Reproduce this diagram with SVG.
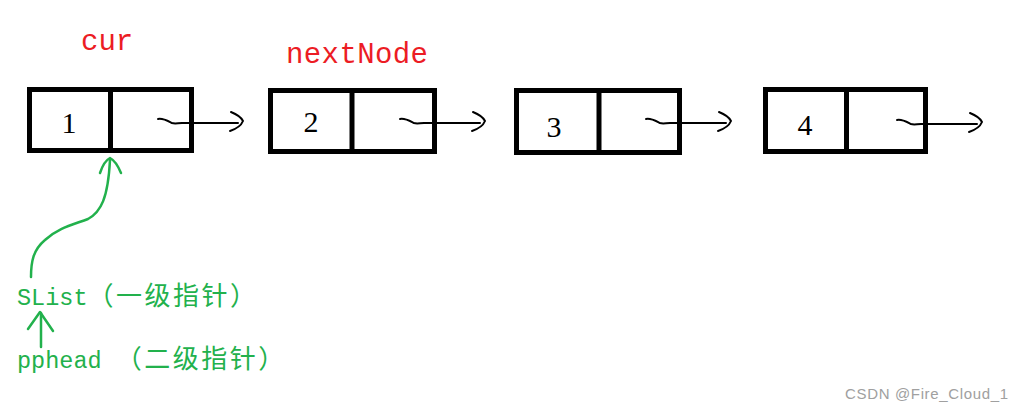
<svg xmlns="http://www.w3.org/2000/svg" width="1025" height="415" viewBox="0 0 1025 415">
<style>
.box{fill:none;stroke:#000;stroke-width:5}
.num{font-family:"Liberation Serif",serif;font-size:30px;fill:#000;text-anchor:middle}
.red{font-family:"Liberation Mono",monospace;font-size:29px;fill:#ec1c24}
.lat{font-family:"Liberation Mono",monospace;font-size:23.5px}
.cjk{font-family:"Noto Sans CJK SC",sans-serif;font-size:26px;letter-spacing:2.5px}
.grn{fill:#22b14c}
.blk{fill:none;stroke:#000;stroke-width:2;stroke-linecap:round;stroke-linejoin:round}
.garr{fill:none;stroke:#22b14c;stroke-width:2.5;stroke-linecap:round;stroke-linejoin:round}
.wm{font-family:"Liberation Sans",sans-serif;font-size:15px;fill:#a0a0a0}
</style>
<defs>
<g id="ptr">
<path class="blk" d="M0,0 C5,-1 10,2 14,4 C17,5 20,4 24,4 L80,4"/>
<path class="blk" d="M73,-7 C78,-5 83,-2 85,2 C83,7 78,10 72,12"/>
</g>
</defs>
<rect width="1025" height="415" fill="#fff"/>
<g id="node1">
<rect class="box" x="29.5" y="89.5" width="162" height="61"/>
<line class="box" x1="110.5" y1="89.5" x2="110.5" y2="150.5"/>
<text class="num" x="69" y="133">1</text>
</g>
<g id="node2">
<rect class="box" x="270.5" y="90.5" width="164" height="61"/>
<line class="box" x1="352" y1="90.5" x2="352" y2="151.5"/>
<text class="num" x="311" y="132">2</text>
</g>
<g id="node3">
<rect class="box" x="516.5" y="90.5" width="163" height="62"/>
<line class="box" x1="599" y1="90.5" x2="599" y2="152.5"/>
<text class="num" x="554" y="137">3</text>
</g>
<g id="node4">
<rect class="box" x="765.5" y="89.5" width="160" height="62"/>
<line class="box" x1="846.5" y1="89.5" x2="846.5" y2="151.5"/>
<text class="num" x="805" y="135">4</text>
</g>
<g id="label-cur"><text class="red" x="81" y="50">cur</text></g>
<g id="label-nextNode"><text class="red" x="286" y="63" textLength="142">nextNode</text></g>
<g id="label-slist"><text class="grn" x="17" y="305"><tspan class="lat">SList</tspan><tspan class="cjk">（一级指针）</tspan></text></g>
<g id="label-pphead"><text class="grn" x="17" y="368"><tspan class="lat">pphead </tspan><tspan class="cjk">（二级指针）</tspan></text></g>
<g id="connectors">
<use href="#ptr" x="158" y="119"/>
<use href="#ptr" x="400" y="119"/>
<use href="#ptr" x="646" y="119"/>
<use href="#ptr" x="897" y="120"/>
<path class="garr" d="M31,277 C31,262 33,250 45,240 C58,228 72,225 88,219 C101,212 108,198 110,160"/>
<path class="garr" d="M100,173 Q104,161 110,158 Q116,161 121,173"/>
<path class="garr" d="M41,347 L41,313"/>
<path class="garr" d="M28,329 L40,312 L53,331"/>
</g>
<text class="wm" x="845" y="399" textLength="163">CSDN @Fire_Cloud_1</text>
</svg>
